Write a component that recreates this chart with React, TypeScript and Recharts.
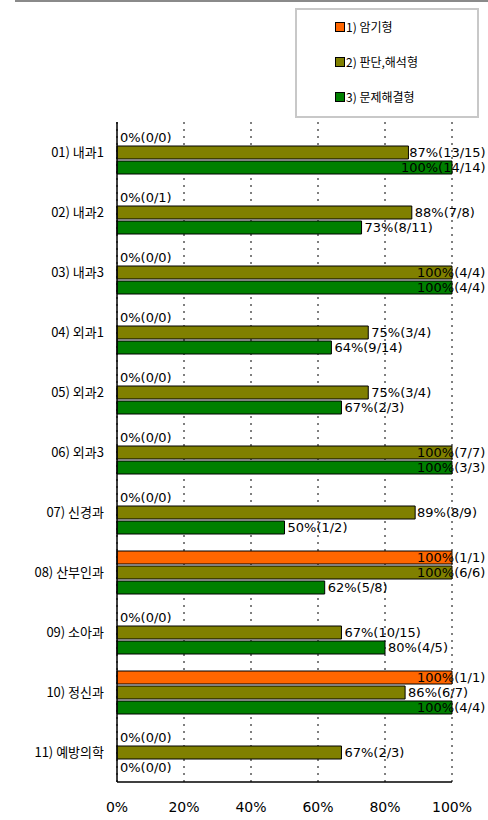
import { Bar, BarChart, CartesianGrid, Rectangle, XAxis, YAxis } from "recharts";

const categories = [
  "01) 내과1",
  "02) 내과2",
  "03) 내과3",
  "04) 외과1",
  "05) 외과2",
  "06) 외과3",
  "07) 신경과",
  "08) 산부인과",
  "09) 소아과",
  "10) 정신과",
  "11) 예방의학",
];

const seriesNames = ["1) 암기형", "2) 판단,해석형", "3) 문제해결형"];
const seriesColors = ["#ff6600", "#808000", "#008000"];

const recallPct = [0, 0, 0, 0, 0, 0, 0, 100, 0, 100, 0];
const recallN = [0, 0, 0, 0, 0, 0, 0, 1, 0, 1, 0];
const recallD = [0, 1, 0, 0, 0, 0, 0, 1, 0, 1, 0];

const judgePct = [87, 88, 100, 75, 75, 100, 89, 100, 67, 86, 67];
const judgeN = [13, 7, 4, 3, 3, 7, 8, 6, 10, 6, 2];
const judgeD = [15, 8, 4, 4, 4, 7, 9, 6, 15, 7, 3];

const solvePct = [100, 73, 100, 64, 67, 100, 50, 62, 80, 100, 0];
const solveN = [14, 8, 4, 9, 2, 3, 1, 5, 4, 4, 0];
const solveD = [14, 11, 4, 14, 3, 3, 2, 8, 5, 4, 0];

const xTicks = [0, 20, 40, 60, 80, 100];

const data = categories.map((name, i) => ({
  name,
  recall: recallPct[i],
  recallLabel: `${recallPct[i]}%(${recallN[i]}/${recallD[i]})`,
  judge: judgePct[i],
  judgeLabel: `${judgePct[i]}%(${judgeN[i]}/${judgeD[i]})`,
  solve: solvePct[i],
  solveLabel: `${solvePct[i]}%(${solveN[i]}/${solveD[i]})`,
}));

const numFont = "'DejaVu Sans', Verdana, sans-serif";
const krFont = "'Noto Sans CJK KR', 'DejaVu Sans', sans-serif";

// rough text width of DejaVu Sans at 13px
function textWidth(s: string) {
  let w = 0;
  for (const c of s) {
    if (c === "%") w += 12.4;
    else if (c === "(" || c === ")") w += 5.1;
    else if (c === "/") w += 4.4;
    else w += 8.3;
  }
  return w;
}

function makeShape(labelKey: string) {
  return (props: any) => {
    const { x, y, width, height, fill, payload } = props;
    const label = payload[labelKey];
    const tx = Math.min(x + width + 3, 417, 486 - textWidth(label));
    return (
      <g>
        {width > 0 && (
          <Rectangle x={x} y={y} width={width} height={height} fill={fill} stroke="#000" strokeWidth={1} />
        )}
        <text
          x={tx}
          y={y + height / 2}
          dominantBaseline="central"
          fontSize={13}
          fontFamily={numFont}
          fill="#000"
        >
          {label}
        </text>
      </g>
    );
  };
}

function Legend() {
  return (
    <div
      style={{
        position: "absolute",
        left: 295,
        top: 8,
        width: 180,
        height: 106,
        border: "2px solid #c8c8c8",
        background: "#fff",
      }}
    >
      {seriesNames.map((n, i) => (
        <div
          key={n}
          style={{
            position: "absolute",
            left: 38,
            top: 8 + i * 35,
            display: "flex",
            alignItems: "center",
            fontFamily: krFont,
            fontSize: 12,
            color: "#000",
          }}
        >
          <span
            style={{
              display: "inline-block",
              width: 8,
              height: 8,
              background: seriesColors[i],
              border: "1px solid #000",
              marginRight: 1,
            }}
          />
          {n}
        </div>
      ))}
    </div>
  );
}

export default function App() {
  return (
    <div style={{ position: "absolute", left: 0, top: 0, width: 488, height: 820, background: "#fff" }}>
      <div style={{ position: "absolute", left: 15, top: 0, width: 473, height: 2, background: "#8a8a8a" }} />
      <BarChart
        width={488}
        height={820}
        data={data}
        layout="vertical"
        margin={{ top: 122, right: 36, bottom: 0, left: 0 }}
        barSize={13}
        barGap={2}
      >
        <CartesianGrid horizontal={false} stroke="#000" strokeDasharray="2 5" />
        <XAxis
          type="number"
          domain={[0, 100]}
          ticks={xTicks}
          tickFormatter={(v: number) => `${v}%`}
          height={38}
          tickLine={false}
          tickSize={0}
          tickMargin={20}
          axisLine={{ stroke: "#000", strokeWidth: 1.5 }}
          tick={{ fontSize: 14, fill: "#000", fontFamily: numFont }}
          interval={0}
        />
        <YAxis
          type="category"
          dataKey="name"
          width={117}
          tickLine={false}
          tickSize={0}
          tickMargin={13}
          axisLine={{ stroke: "#000", strokeWidth: 1.5 }}
          tick={{ fontSize: 13, fill: "#000", fontFamily: krFont }}
          interval={0}
        />
        <Bar dataKey="recall" name={seriesNames[0]} fill={seriesColors[0]} shape={makeShape("recallLabel")} isAnimationActive={false} />
        <Bar dataKey="judge" name={seriesNames[1]} fill={seriesColors[1]} shape={makeShape("judgeLabel")} isAnimationActive={false} />
        <Bar dataKey="solve" name={seriesNames[2]} fill={seriesColors[2]} shape={makeShape("solveLabel")} isAnimationActive={false} />
      </BarChart>
      <Legend />
    </div>
  );
}
